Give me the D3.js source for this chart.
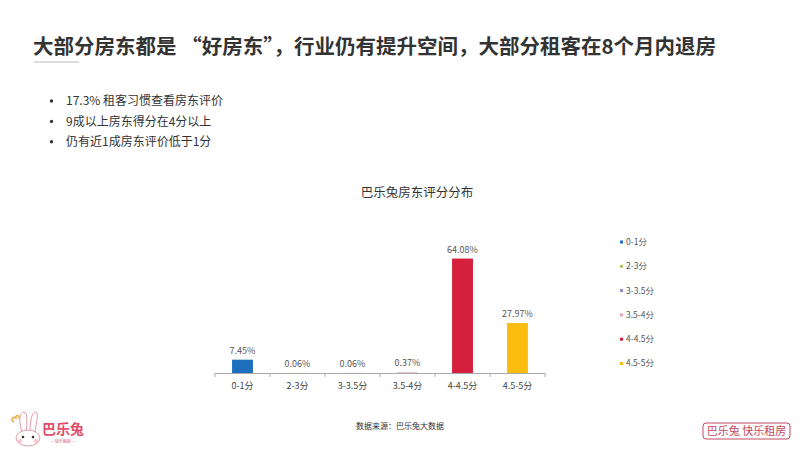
<!DOCTYPE html>
<html>
<head>
<meta charset="utf-8">
<script src="https://cdn.jsdelivr.net/npm/d3@7"></script>
<style>
  body { margin: 0; background: #fff; }
  svg { display: block; font-family: "Noto Sans CJK SC", "Liberation Sans", sans-serif; }
</style>
</head>
<body>
<script>
var categories = ["0-1分", "2-3分", "3-3.5分", "3.5-4分", "4-4.5分", "4.5-5分"];
var values = [7.45, 0.06, 0.06, 0.37, 64.08, 27.97];
var palette = ["#1f6fbf", "#b3c35e", "#8e8dbf", "#e0a5b6", "#d61f3c", "#fcbd11"];
var bullets = ["17.3% 租客习惯查看房东评价", "9成以上房东得分在4分以上", "仍有近1成房东评价低于1分"];

var width = 800, height = 450;

var svg = d3.select("body").append("svg")
    .attr("width", width)
    .attr("height", height);

// heading
svg.append("text")
    .attr("x", 33).attr("y", 54)
    .attr("font-size", 20.5).attr("font-weight", "bold").attr("fill", "#333")
    .text("大部分房东都是 “好房东”，行业仍有提升空间，大部分租客在8个月内退房");
svg.append("line")
    .attr("x1", 34).attr("x2", 79).attr("y1", 62).attr("y2", 62)
    .attr("stroke", "#bbb").attr("stroke-width", 1);

var bl = svg.append("g").selectAll("g")
    .data(bullets).enter().append("g")
    .attr("transform", function(d, i) { return "translate(0," + (101 + i * 20.4) + ")"; });
bl.append("circle").attr("cx", 51.5).attr("cy", 0).attr("r", 1.7).attr("fill", "#333");
bl.append("text").attr("x", 66).attr("dy", "0.35em")
    .attr("font-size", 12).attr("fill", "#333")
    .text(function(d) { return d; });

// chart
svg.append("text")
    .attr("x", 417).attr("y", 197).attr("text-anchor", "middle")
    .attr("font-size", 12.5).attr("fill", "#333")
    .text("巴乐兔房东评分分布");

var x = d3.scaleBand()
    .domain(categories)
    .range([215, 545])
    .paddingInner(0.62).paddingOuter(0.31);

var y = d3.scaleLinear()
    .domain([0, 70])
    .range([373, 248]);

var color = d3.scaleOrdinal().domain(categories).range(palette);

var data = categories.map(function(c, i) { return { cat: c, val: values[i] }; });

svg.append("g").selectAll("rect")
    .data(data).enter().append("rect")
    .attr("x", function(d) { return x(d.cat); })
    .attr("width", x.bandwidth())
    .attr("y", function(d) { return y(d.val); })
    .attr("height", function(d) { return y(0) - y(d.val); })
    .attr("fill", function(d) { return color(d.cat); });

svg.append("g").selectAll("text")
    .data(data).enter().append("text")
    .attr("x", function(d) { return x(d.cat) + x.bandwidth() / 2; })
    .attr("y", function(d) { return y(d.val) - 6; })
    .attr("text-anchor", "middle")
    .attr("font-size", 9).attr("fill", "#555")
    .text(function(d) { return d3.format(".2f")(d.val) + "%"; });

// axis with ticks at the band boundaries
var edges = d3.range(categories.length + 1).map(function(i) {
    return i < categories.length ? x(categories[i]) - x.step() * x.paddingOuter() : x.range()[1];
});
var axisG = svg.append("g");
axisG.append("line")
    .attr("x1", x.range()[0]).attr("x2", x.range()[1]).attr("y1", y(0) + 0.5).attr("y2", y(0) + 0.5)
    .attr("stroke", "#aaa");
axisG.selectAll("line.tick")
    .data(edges).enter().append("line")
    .attr("class", "tick")
    .attr("x1", function(d) { return d; })
    .attr("x2", function(d) { return d; })
    .attr("y1", y(0)).attr("y2", y(0) + 4)
    .attr("stroke", "#aaa");
axisG.selectAll("text")
    .data(categories).enter().append("text")
    .attr("x", function(d) { return x(d) + x.bandwidth() / 2; })
    .attr("y", 389)
    .attr("text-anchor", "middle")
    .attr("font-size", 9).attr("fill", "#444")
    .text(function(d) { return d; });

// legend
var lg = svg.append("g").selectAll("g")
    .data(categories).enter().append("g")
    .attr("transform", function(d, i) { return "translate(620," + (242 + i * 24.3) + ")"; });
lg.append("rect").attr("x", 0).attr("y", -1.5).attr("width", 3).attr("height", 3)
    .attr("fill", function(d) { return color(d); });
lg.append("text").attr("x", 6).attr("dy", "0.35em")
    .attr("font-size", 8.5).attr("fill", "#555")
    .text(function(d) { return d; });

// source
svg.append("text")
    .attr("x", 400).attr("y", 429).attr("text-anchor", "middle")
    .attr("font-size", 8).attr("fill", "#333")
    .text("数据来源：巴乐兔大数据");

// left logo
var logo = svg.append("g").attr("transform", "translate(8,410)");
logo.append("path")
    .attr("d", "M14,22 C10,10 12,2 16,2 C20,2 19,14 18,22 Z")
    .attr("fill", "#fff").attr("stroke", "#e39aa8").attr("stroke-width", 1);
logo.append("path")
    .attr("d", "M22,22 C22,8 25,1 28,2 C31,3 28,14 27,23 Z")
    .attr("fill", "#fff").attr("stroke", "#e39aa8").attr("stroke-width", 1);
logo.append("ellipse").attr("cx", 20).attr("cy", 28).attr("rx", 12).attr("ry", 8)
    .attr("fill", "#fff").attr("stroke", "#e39aa8").attr("stroke-width", 1);
logo.append("path").attr("d", "M6,12 C2,10 4,6 8,8 C7,4 12,5 11,9")
    .attr("fill", "none").attr("stroke", "#e5b04a").attr("stroke-width", 1.5);
logo.append("circle").attr("cx", 15).attr("cy", 27).attr("r", 1.3).attr("fill", "#333");
logo.append("circle").attr("cx", 25).attr("cy", 27).attr("r", 1.3).attr("fill", "#333");
logo.append("circle").attr("cx", 12).attr("cy", 31).attr("r", 2).attr("fill", "#f6c3cc");
logo.append("circle").attr("cx", 28).attr("cy", 31).attr("r", 2).attr("fill", "#f6c3cc");
logo.append("text").attr("x", 34).attr("y", 24)
    .attr("font-size", 14).attr("font-weight", "bold").attr("fill", "#e0506a")
    .text("巴乐兔");
logo.append("text").attr("x", 55).attr("y", 33).attr("text-anchor", "middle")
    .attr("font-size", 4).attr("fill", "#e0506a")
    .text("— 快乐租房 —");

// right logo
var rl = svg.append("g").attr("transform", "translate(703,423)");
rl.append("rect").attr("width", 87).attr("height", 16).attr("rx", 3)
    .attr("fill", "#fff").attr("stroke", "#c04a62").attr("stroke-width", 1);
rl.append("text").attr("x", 43.5).attr("y", 12).attr("text-anchor", "middle")
    .attr("font-size", 11).attr("fill", "#c04a62")
    .text("巴乐兔 快乐租房");
</script>
</body>
</html>
